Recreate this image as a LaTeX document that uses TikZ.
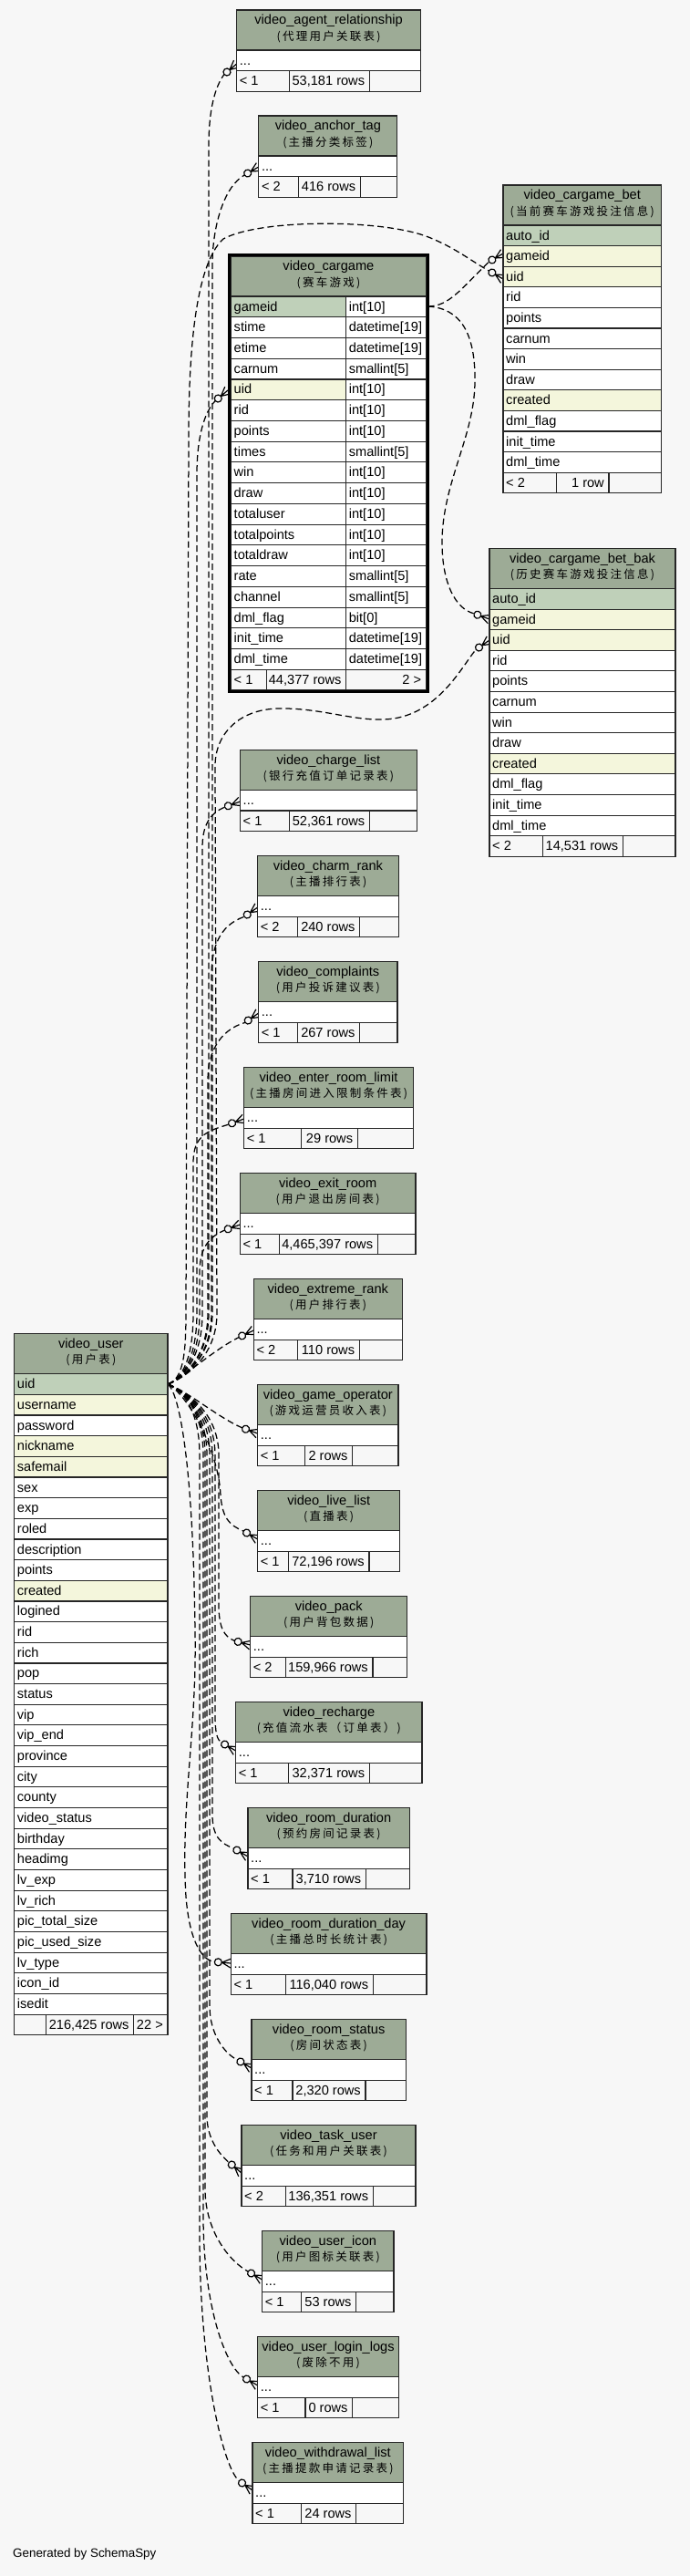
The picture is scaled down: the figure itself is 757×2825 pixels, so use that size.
\documentclass[tikz,border=0pt]{standalone}
\usepackage{fontspec}
\setmainfont{Liberation Sans}
\newfontfamily\cjkfont[LetterSpace=18]{Noto Sans CJK SC}
\definecolor{bgc}{HTML}{F7F7F7}
\definecolor{hdrc}{HTML}{9DAB96}
\definecolor{rowpk}{HTML}{BFD0B9}
\definecolor{rowidx}{HTML}{F4F6DC}
\definecolor{roww}{HTML}{FFFFFF}
\definecolor{rowft}{HTML}{F7F7F7}
\tikzset{
 cell/.style={draw=black!85, line width=1.1pt},
 hdr/.style={cell, fill=hdrc},
 txt/.style={anchor=base west, inner sep=0pt, font=\fontsize{14.6}{16}\selectfont},
 txtr/.style={anchor=base east, inner sep=0pt, font=\fontsize{14.6}{16}\selectfont},
 ttl/.style={anchor=base, inner sep=0pt, font=\fontsize{14.6}{16}\selectfont},
 cjk/.style={anchor=base, inner sep=0pt, font={\cjkfont\fontsize{12.5}{14}\selectfont}},
 rel/.style={draw=black, line width=1.25pt, dash pattern=on 7pt off 4pt},
 markline/.style={draw=black, line width=1.2pt},
}
\newcommand\tblheader[6]{%
 \pgfmathsetmacro\hbot{#4+44}%
 \pgfmathsetmacro\hmid{(#2+#3)/2}%
 \filldraw[hdr] (#2,#4) rectangle (#3,\hbot);
 \node[ttl] (#1-title) at (\hmid,#4+15.5) {#5};
 \node[cjk] (#1-cn) at (\hmid,#4+33) {#6};
}
\newcommand\tbldots[4]{%
 \pgfmathsetmacro\da{#4+44}\pgfmathsetmacro\db{#4+66.5}%
 \filldraw[cell, fill=roww] (#2,\da) rectangle (#3,\db);
 \node[txt] (#1-dots) at (#2+3,#4+60) {...};
}
\newcommand\tblfoot[9]{%
 \pgfmathsetmacro\fb{#4+22.6}%
 \filldraw[cell, fill=rowft] (#2,#4) rectangle (#5,\fb);
 \filldraw[cell, fill=rowft] (#5,#4) rectangle (#6,\fb);
 \filldraw[cell, fill=rowft] (#6,#4) rectangle (#3,\fb);
 \node[txt] (#1-lt) at (#2+3,#4+16) {#7};
 \node[txtr] (#1-rows) at (#6-5,#4+16) {#8};
 \node[txtr] (#1-rt) at (#3-5,#4+16) {#9};
}
\newcommand\tblrows[6]{%
 \foreach \lab/\fc [count=\i from 0] in {#6} {
   \pgfmathsetmacro\ya{#4+\i*#5}\pgfmathsetmacro\yb{\ya+#5}
   \filldraw[cell, fill=\fc] (#2,\ya) rectangle (#3,\yb);
   \node[txt] (#1-r\i) at (#2+3,\ya+16) {\lab};
 }}
\newcommand\smalltbl[6]{%
 \tblheader{#1}{#2}{#3}{#4}{#5}{#6}
 \tbldots{#1}{#2}{#3}{#4}
}
\newcommand\crowmark[4]{%
 \begin{scope}[shift={(#2,#3)}, rotate=#4]
  \draw[markline] (-10,0) -- (0,-5) (-10,0) -- (0,0) (-10,0) -- (0,5);
  \draw[markline, fill=bgc] (-14,0) circle (4pt);
  \coordinate (#1-in) at (-18,0);
 \end{scope}}
\newcommand\upedge[6]{%
 \draw[rel] (user-uid) .. controls (200,1512) and (#2,1490) .. (#2,1440) -- (#2,#3) .. controls (#2,#4) and (#5,#6) .. (#1-in);}
\newcommand\downedge[6]{%
 \draw[rel] (user-uid) .. controls (200,1524) and (#2,1546) .. (#2,1596) -- (#2,#3) .. controls (#2,#4) and (#5,#6) .. (#1-in);}

\begin{document}
\begin{tikzpicture}[x=1pt,y=-1pt]
\useasboundingbox (0,0) rectangle (757,2825);
\fill[bgc] (0,0) rectangle (757,2825);

% ---------- connector end points ----------
\coordinate (user-uid) at (184,1518);
\coordinate (cg-gid) at (469.5,336);
\crowmark{agent}{259.7}{70}{40}
\crowmark{anchor}{283.8}{183}{30}
\crowmark{cguid}{250}{428}{40}
\crowmark{betgid}{552}{278}{30}
\crowmark{betuid}{552}{306}{-30}
\crowmark{bakgid}{537}{679}{-20}
\crowmark{bakuid}{537}{702}{35}
\crowmark{charge}{263.5}{879}{20}
\crowmark{charm}{282.7}{995}{35}
\crowmark{compl}{283.7}{1111}{35}
\crowmark{enter}{267.7}{1227}{20}
\crowmark{exit}{263.3}{1343}{20}
\crowmark{extreme}{278.3}{1459}{25}
\crowmark{gameop}{282.7}{1572}{-20}
\crowmark{live}{282.7}{1688}{-30}
\crowmark{pack}{274.7}{1804}{-15}
\crowmark{recharge}{258.7}{1920}{-30}
\crowmark{roomdur}{272}{2036}{-30}
\crowmark{roomday}{253.3}{2153}{-5}
\crowmark{roomstat}{276}{2268}{-30}
\crowmark{task}{265}{2383}{-40}
\crowmark{icon}{287.7}{2500}{-30}
\crowmark{login}{282.7}{2616}{-30}
\crowmark{withdraw}{277}{2731}{-35}

% ---------- connectors ----------
\upedge{agent}{229}{160}{120}{236}{95}
\upedge{anchor}{233}{290}{250}{245}{205}
\upedge{cguid}{216}{520}{480}{224}{452}
\upedge{charge}{222}{930}{905}{230}{892}
\upedge{charm}{232}{1070}{1040}{240}{1015}
\upedge{compl}{228}{1185}{1155}{240}{1130}
\upedge{enter}{212}{1275}{1245}{228}{1240}
\upedge{exit}{219}{1395}{1368}{230}{1356}
\draw[rel] (user-uid) .. controls (205,1508) and (235,1480) .. (extreme-in);
\draw[rel] (user-uid) .. controls (200,1512) and (204,1490) .. (204,1440) -- (207,480) .. controls (207,400) and (212,292) .. (245,262) .. controls (285,240) and (420,240) .. (470,260) .. controls (500,272) and (515,285) .. (betuid-in);
\draw[rel] (user-uid) .. controls (200,1512) and (238,1490) .. (238,1440) -- (236,840) .. controls (236,805) and (262,778) .. (305,777) .. controls (350,776) and (385,790) .. (420,789) .. controls (480,788) and (508,728) .. (bakuid-in);
\draw[rel] (user-uid) .. controls (205,1525) and (240,1555) .. (gameop-in);
\draw[rel] (user-uid) .. controls (205,1528) and (240,1590) .. (242,1640) .. controls (244,1665) and (252,1673) .. (live-in);
\downedge{pack}{240}{1760}{1785}{246}{1795}
\downedge{recharge}{236}{1880}{1900}{238}{1908}
\downedge{roomdur}{233}{1990}{2015}{243}{2022}
\draw[rel] (user-uid) .. controls (196,1526) and (212,1600) .. (214,1790) .. controls (216,1900) and (198,1980) .. (204,2080) .. controls (208,2130) and (222,2150) .. (roomday-in);
\downedge{roomstat}{230}{2200}{2230}{246}{2252}
\downedge{task}{227}{2320}{2345}{240}{2362}
\downedge{icon}{225}{2400}{2450}{255}{2482}
\downedge{login}{223}{2430}{2530}{248}{2596}
\downedge{withdraw}{219}{2450}{2600}{245}{2706}
\draw[rel] (cg-gid) .. controls (492,336) and (505,318) .. (betgid-in);
\draw[rel] (cg-gid) .. controls (505,338) and (522,365) .. (521,420) .. controls (520,480) and (485,530) .. (485,595) .. controls (485,640) and (500,668) .. (bakgid-in);

% ---------- small tables ----------
\smalltbl{agent}{259.7}{461.5}{11}{video\_agent\_relationship}{(代理用户关联表)}
\tblfoot{agent}{259.7}{461.5}{11+66.5}{317.2}{405.3}{< 1}{53,181 rows}{}
\smalltbl{anchor}{283.8}{435.9}{127}{video\_anchor\_tag}{(主播分类标签)}
\tblfoot{anchor}{283.8}{435.9}{127+66.5}{327.2}{395.4}{< 2}{416 rows}{}
\smalltbl{charge}{263.5}{457.3}{822.5}{video\_charge\_list}{(银行充值订单记录表)}
\tblfoot{charge}{263.5}{457.3}{822.5+66.5}{317.4}{405.5}{< 1}{52,361 rows}{}
\smalltbl{charm}{282.7}{437.3}{938.6}{video\_charm\_rank}{(主播排行表)}
\tblfoot{charm}{282.7}{437.3}{938.6+66.5}{326.7}{394.7}{< 2}{240 rows}{}
\smalltbl{compl}{283.7}{436}{1054.6}{video\_complaints}{(用户投诉建议表)}
\tblfoot{compl}{283.7}{436}{1054.6+66.5}{326.7}{394.7}{< 1}{267 rows}{}
\smalltbl{enter}{267.7}{453.3}{1170.7}{video\_enter\_room\_limit}{(主播房间进入限制条件表)}
\tblfoot{enter}{267.7}{453.3}{1170.7+66.5}{330.7}{392.3}{< 1}{29 rows}{}
\smalltbl{exit}{263.3}{456}{1286.6}{video\_exit\_room}{(用户退出房间表)}
\tblfoot{exit}{263.3}{456}{1286.6+66.5}{306.7}{414.3}{< 1}{4,465,397 rows}{}
\smalltbl{extreme}{278.3}{441.3}{1402.6}{video\_extreme\_rank}{(用户排行表)}
\tblfoot{extreme}{278.3}{441.3}{1402.6+66.5}{326.7}{394.3}{< 2}{110 rows}{}
\smalltbl{gameop}{282.7}{437}{1518.6}{video\_game\_operator}{(游戏运营员收入表)}
\tblfoot{gameop}{282.7}{437}{1518.6+66.5}{334.7}{386.7}{< 1}{2 rows}{}
\smalltbl{live}{282.7}{438.7}{1634.6}{video\_live\_list}{(直播表)}
\tblfoot{live}{282.7}{438.7}{1634.6+66.5}{316.7}{405}{< 1}{72,196 rows}{}
\smalltbl{pack}{274.7}{446.7}{1750.6}{video\_pack}{(用户背包数据)}
\tblfoot{pack}{274.7}{446.7}{1750.6+66.5}{313.3}{409}{< 2}{159,966 rows}{}
\smalltbl{recharge}{258.7}{463}{1866.6}{video\_recharge}{(充值流水表（订单表）)}
\tblfoot{recharge}{258.7}{463}{1866.6+66.5}{316.7}{405.3}{< 1}{32,371 rows}{}
\smalltbl{roomdur}{272}{449.3}{1982.6}{video\_room\_duration}{(预约房间记录表)}
\tblfoot{roomdur}{272}{449.3}{1982.6+66.5}{321}{401.3}{< 1}{3,710 rows}{}
\smalltbl{roomday}{253.3}{468}{2098.6}{video\_room\_duration\_day}{(主播总时长统计表)}
\tblfoot{roomday}{253.3}{468}{2098.6+66.5}{313.3}{409.3}{< 1}{116,040 rows}{}
\smalltbl{roomstat}{276}{445.3}{2214.6}{video\_room\_status}{(房间状态表)}
\tblfoot{roomstat}{276}{445.3}{2214.6+66.5}{321}{401}{< 1}{2,320 rows}{}
\smalltbl{task}{265}{456}{2330.6}{video\_task\_user}{(任务和用户关联表)}
\tblfoot{task}{265}{456}{2330.6+66.5}{313.3}{409.3}{< 2}{136,351 rows}{}
\smalltbl{icon}{287.7}{432}{2446.6}{video\_user\_icon}{(用户图标关联表)}
\tblfoot{icon}{287.7}{432}{2446.6+66.5}{330.7}{390.7}{< 1}{53 rows}{}
\smalltbl{login}{282.7}{437.3}{2562.6}{video\_user\_login\_logs}{(废除不用)}
\tblfoot{login}{282.7}{437.3}{2562.6+66.5}{335}{386.7}{< 1}{0 rows}{}
\smalltbl{withdraw}{277}{442.7}{2678.6}{video\_withdrawal\_list}{(主播提款申请记录表)}
\tblfoot{withdraw}{277}{442.7}{2678.6+66.5}{330.7}{390.7}{< 1}{24 rows}{}

% ---------- video_cargame ----------
\tblheader{cg}{253.5}{467.3}{281}{video\_cargame}{(赛车游戏)}
\foreach \lab/\typ/\fc [count=\i from 0] in {gameid/int[10]/rowpk, stime/datetime[19]/roww, etime/datetime[19]/roww, carnum/smallint[5]/roww, uid/int[10]/rowidx, rid/int[10]/roww, points/int[10]/roww, times/smallint[5]/roww, win/int[10]/roww, draw/int[10]/roww, totaluser/int[10]/roww, totalpoints/int[10]/roww, totaldraw/int[10]/roww, rate/smallint[5]/roww, channel/smallint[5]/roww, dml\_flag/bit[0]/roww, init\_time/datetime[19]/roww, dml\_time/datetime[19]/roww} {
  \pgfmathsetmacro\ya{325+\i*22.74}\pgfmathsetmacro\yb{\ya+22.74}
  \filldraw[cell, fill=\fc] (253.5,\ya) rectangle (379.6,\yb);
  \filldraw[cell, fill=roww] (379.6,\ya) rectangle (467.3,\yb);
  \node[txt] (cg-n\i) at (256.5,\ya+16) {\lab};
  \node[txt] (cg-t\i) at (382.6,\ya+16) {\typ};
}
\tblfoot{cg}{253.5}{467.3}{734.4}{292.2}{379.6}{< 1}{44,377 rows}{2 >}
\draw[line width=3pt] (251.8,279.5) rectangle (469,758.6);

% ---------- video_cargame_bet ----------
\tblheader{bet}{552}{725.5}{203}{video\_cargame\_bet}{(当前赛车游戏投注信息)}
\tblrows{bet}{552}{725.5}{247}{22.6}{auto\_id/rowpk, gameid/rowidx, uid/rowidx, rid/roww, points/roww, carnum/roww, win/roww, draw/roww, created/rowidx, dml\_flag/roww, init\_time/roww, dml\_time/roww}
\tblfoot{bet}{552}{725.5}{518.2}{610.8}{668}{< 2}{1 row}{}

% ---------- video_cargame_bet_bak ----------
\tblheader{bak}{537}{741}{601.7}{video\_cargame\_bet\_bak}{(历史赛车游戏投注信息)}
\tblrows{bak}{537}{741}{645.5}{22.6}{auto\_id/rowpk, gameid/rowidx, uid/rowidx, rid/roww, points/roww, carnum/roww, win/roww, draw/roww, created/rowidx, dml\_flag/roww, init\_time/roww, dml\_time/roww}
\tblfoot{bak}{537}{741}{916.7}{595.7}{683.4}{< 2}{14,531 rows}{}

% ---------- video_user ----------
\tblheader{user}{15.7}{184}{1462.7}{video\_user}{(用户表)}
\tblrows{user}{15.7}{184}{1506.7}{22.66}{uid/rowpk, username/rowidx, password/roww, nickname/rowidx, safemail/rowidx, sex/roww, exp/roww, roled/roww, description/roww, points/roww, created/rowidx, logined/roww, rid/roww, rich/roww, pop/roww, status/roww, vip/roww, vip\_end/roww, province/roww, city/roww, county/roww, video\_status/roww, birthday/roww, headimg/roww, lv\_exp/roww, lv\_rich/roww, pic\_total\_size/roww, pic\_used\_size/roww, lv\_type/roww, icon\_id/roww, isedit/roww}
\tblfoot{user}{15.7}{184}{2209.2}{50.7}{146.7}{}{216,425 rows}{22 >}

\node[anchor=base west, inner sep=0pt, font=\fontsize{13.4}{15}\selectfont] (gen) at (14,2804) {Generated by SchemaSpy};
\end{tikzpicture}
\end{document}
